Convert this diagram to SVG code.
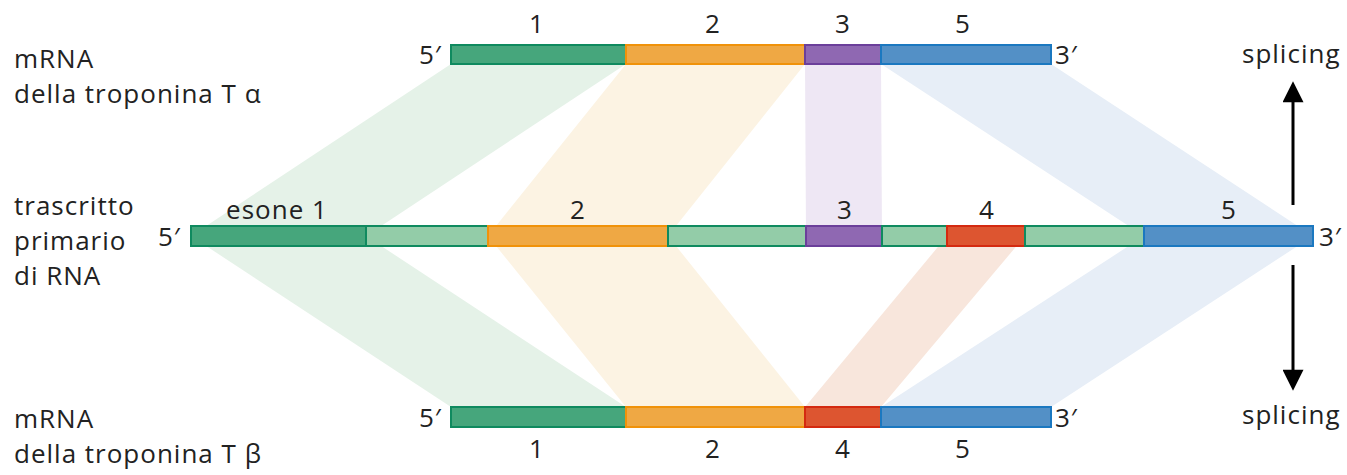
<svg xmlns="http://www.w3.org/2000/svg" width="1347" height="475" viewBox="0 0 1347 475">
  <style>
    text { font-family: "Open Sans", "Liberation Sans", sans-serif; font-size: 26px; font-weight: 400; letter-spacing: 1px; fill: #222; }
    .n { text-anchor: middle; }
    .band { stroke: none; }
    .seg { stroke-width: 2; }
    .ex1 { fill: #46a67c; stroke: #0f8a5f; }
    .intr { fill: #93cca8; stroke: #0f8a5f; }
    .ex2 { fill: #efa844; stroke: #f0920a; }
    .ex3 { fill: #8f68b2; stroke: #6b3f9a; }
    .ex4 { fill: #dd5530; stroke: #d42a10; }
    .ex5 { fill: #5390c6; stroke: #1b78c0; }
    .bg1 { fill: #e5f2e8; }
    .bg2 { fill: #fcf3e3; }
    .bg3 { fill: #eee7f4; }
    .bg4 { fill: #f8e6dc; }
    .bg5 { fill: #e7eef7; }
    .arr { stroke: #000; stroke-width: 3; fill: none; }
  </style>
  <defs>
    <marker id="head" viewBox="0 0 10 10" refX="2" refY="5" markerWidth="7.5" markerHeight="7" orient="auto" markerUnits="strokeWidth">
      <path d="M0,0 L10,5 L0,10 z" fill="#000"/>
    </marker>
  </defs>

  <!-- exon correspondence bands and splicing arrows -->
  <g id="connectors">
    <polygon class="band bg1" points="451,64 626,64 366,236 191,236"/>
    <polygon class="band bg2" points="626,64 805,64 668,236 488,236"/>
    <polygon class="band bg3" points="805,64 881,64 882,236 806,236"/>
    <polygon class="band bg5" points="881,64 1051,64 1313,236 1144,236"/>
    <polygon class="band bg1" points="191,236 366,236 626,407 451,407"/>
    <polygon class="band bg2" points="488,236 668,236 805,407 626,407"/>
    <polygon class="band bg4" points="947,236 1025,236 881,407 805,407"/>
    <polygon class="band bg5" points="1144,236 1313,236 1051,407 881,407"/>
    <line class="arr" x1="1293" y1="205" x2="1293" y2="98" marker-end="url(#head)"/>
    <line class="arr" x1="1293" y1="265" x2="1293" y2="374" marker-end="url(#head)"/>
  </g>

  <!-- mRNA alpha -->
  <g id="mrna-alpha">
    <rect class="seg ex1" x="451" y="45" width="175" height="19"/>
    <rect class="seg ex2" x="626" y="45" width="179" height="19"/>
    <rect class="seg ex3" x="805" y="45" width="76" height="19"/>
    <rect class="seg ex5" x="881" y="45" width="170" height="19"/>
    <text x="419" y="64">5′</text>
    <text x="1055" y="64">3′</text>
    <text class="n" x="537" y="33">1</text>
    <text class="n" x="713" y="33">2</text>
    <text class="n" x="843" y="33">3</text>
    <text class="n" x="963" y="33">5</text>
    <text x="14" y="68">mRNA</text>
    <text x="14" y="103">della troponina T α</text>
  </g>

  <!-- primary transcript -->
  <g id="transcript">
    <rect class="seg ex1" x="191" y="226" width="175" height="20"/>
    <rect class="seg intr" x="366" y="226" width="122" height="20"/>
    <rect class="seg ex2" x="488" y="226" width="180" height="20"/>
    <rect class="seg intr" x="668" y="226" width="138" height="20"/>
    <rect class="seg ex3" x="806" y="226" width="76" height="20"/>
    <rect class="seg intr" x="882" y="226" width="65" height="20"/>
    <rect class="seg ex4" x="947" y="226" width="78" height="20"/>
    <rect class="seg intr" x="1025" y="226" width="119" height="20"/>
    <rect class="seg ex5" x="1144" y="226" width="169" height="20"/>
    <text x="158" y="246">5′</text>
    <text x="1319" y="246">3′</text>
    <text class="n" x="277" y="219">esone 1</text>
    <text class="n" x="578" y="219">2</text>
    <text class="n" x="845" y="219">3</text>
    <text class="n" x="987" y="219">4</text>
    <text class="n" x="1229" y="219">5</text>
    <text x="14" y="215">trascritto</text>
    <text x="14" y="250">primario</text>
    <text x="14" y="285">di RNA</text>
  </g>

  <!-- mRNA beta -->
  <g id="mrna-beta">
    <rect class="seg ex1" x="451" y="407" width="175" height="20"/>
    <rect class="seg ex2" x="626" y="407" width="179" height="20"/>
    <rect class="seg ex4" x="805" y="407" width="76" height="20"/>
    <rect class="seg ex5" x="881" y="407" width="170" height="20"/>
    <text x="419" y="427">5′</text>
    <text x="1055" y="427">3′</text>
    <text class="n" x="537" y="458">1</text>
    <text class="n" x="713" y="458">2</text>
    <text class="n" x="843" y="458">4</text>
    <text class="n" x="963" y="458">5</text>
    <text x="14" y="428">mRNA</text>
    <text x="14" y="463">della troponina T β</text>
  </g>

  <!-- splicing labels -->
  <g id="splicing">
    <text x="1242" y="63">splicing</text>
    <text x="1242" y="424">splicing</text>
  </g>
</svg>
